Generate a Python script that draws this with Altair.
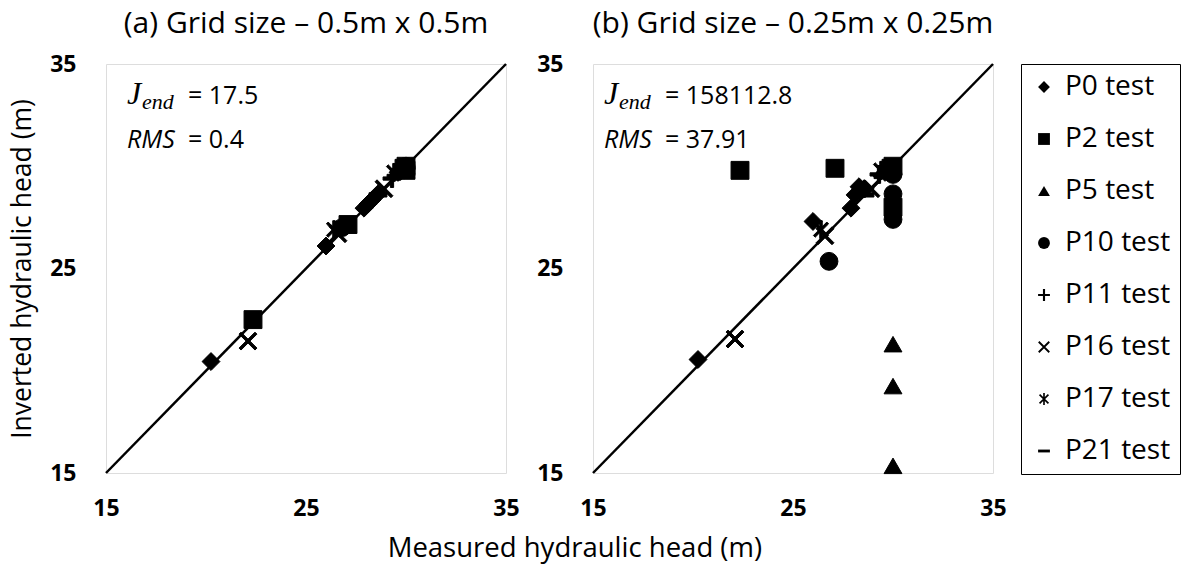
import altair as alt
import pandas as pd

# ---------------- data ----------------
tests = ["P0 test", "P2 test", "P5 test", "P10 test", "P11 test", "P16 test", "P17 test", "P21 test"]

# measured heads (same in both panels) and inverted heads for panel (a) and (b)
p0_meas = [20.25, 26.0, 27.9, 28.1, 28.3, 28.6, 29.6]
p0_inv_a = [20.45, 26.1, 27.95, 28.15, 28.35, 28.65, 29.7]
p0_inv_b = [20.55, 27.3, 27.95, 28.6, 29.0, 28.9, 29.7]

p2_meas = [22.35, 27.1, 29.9, 30.0, 30.0]
p2_inv_a = [22.5, 27.15, 29.9, 30.0, 29.8]
p2_inv_b = [29.8, 29.9, 29.9, 30.0, 28.0]

p5_meas = [30.0, 30.0, 30.0]
p5_inv_a = [29.9, 30.0, 29.8]
p5_inv_b = [21.3, 19.25, 15.35]

p10_meas = [26.8, 30.0, 30.0, 30.0]
p10_inv_a = [27.0, 29.9, 30.0, 29.9]
p10_inv_b = [25.35, 28.65, 27.4, 29.6]

p11_meas = [29.3, 29.7]
p11_inv_a = [29.4, 29.8]
p11_inv_b = [29.6, 29.9]

p16_meas = [22.1, 26.6, 28.9]
p16_inv_a = [21.45, 26.7, 28.9]
p16_inv_b = [21.55, 26.6, 28.9]

p17_meas = [26.4, 29.4]
p17_inv_a = [26.9, 29.7]
p17_inv_b = [26.9, 29.8]

p21_meas = [28.6, 29.5]
p21_inv_a = [28.6, 29.5]
p21_inv_b = [28.6, 29.5]

diag = [15, 35]
ticks = [15, 25, 35]

panel_titles = ["(a) Grid size \u2013 0.5m x 0.5m", "(b) Grid size \u2013 0.25m x 0.25m"]
j_end_values = ["= 17.5", "= 158112.8"]
rms_values = ["= 0.4", "= 37.91"]
ann_x = [16.05, 15.55]
ann_y1 = [33.04, 33.04]
ann_y2 = [30.9, 30.9]

# marker shapes (filled polygons so that legend symbols show too)
PLUS = ("M -1 -0.18 L 1 -0.18 L 1 0.18 L -1 0.18 Z "
        "M -0.18 -1 L 0.18 -1 L 0.18 1 L -0.18 1 Z")
XMARK = ("M -1.0 -0.78 L -0.78 -1.0 L 1.0 0.78 L 0.78 1.0 Z "
         "M -1.0 0.78 L 0.78 -1.0 L 1.0 -0.78 L -0.78 1.0 Z")
ASTER = ("M -0.85 -0.65 L -0.65 -0.85 L 0.85 0.65 L 0.65 0.85 Z "
         "M -0.85 0.65 L 0.65 -0.85 L 0.85 -0.65 L -0.65 0.85 Z "
         "M -0.14 -1 L 0.14 -1 L 0.14 1 L -0.14 1 Z")
DASH = "M -1 -0.24 L 1 -0.24 L 1 0.24 L -1 0.24 Z"
shapes = ["diamond", "square", "triangle-up", "circle", PLUS, XMARK, ASTER, DASH]

series = [
    ("P0 test", p0_meas, p0_inv_a, p0_inv_b),
    ("P2 test", p2_meas, p2_inv_a, p2_inv_b),
    ("P5 test", p5_meas, p5_inv_a, p5_inv_b),
    ("P10 test", p10_meas, p10_inv_a, p10_inv_b),
    ("P11 test", p11_meas, p11_inv_a, p11_inv_b),
    ("P16 test", p16_meas, p16_inv_a, p16_inv_b),
    ("P17 test", p17_meas, p17_inv_a, p17_inv_b),
    ("P21 test", p21_meas, p21_inv_a, p21_inv_b),
]

rows = []
for name, meas, ia, ib in series:
    for m, v in zip(meas, ia):
        rows.append({"panel": "a", "test": name, "measured": m, "inverted": v})
    for m, v in zip(meas, ib):
        rows.append({"panel": "b", "test": name, "measured": m, "inverted": v})
df = pd.DataFrame(rows)
diag_df = pd.DataFrame({"x": diag, "y": diag})

FONT = "Open Sans"
W, H = 400, 409

xscale = alt.Scale(domain=[15, 35], nice=False, zero=False)
yscale = alt.Scale(domain=[15, 35], nice=False, zero=False)


def make_axis(title=None, pad=24):
    kw = dict(values=ticks, grid=False, ticks=False, domain=False,
              labelFontWeight="bold", labelFontSize=23, labelFont=FONT,
              labelPadding=pad, labelFlush=False, labelColor="black")
    if title is not None:
        kw.update(titleFont=FONT, titleFontSize=26.5, titleLimit=1000,
                  titleFontWeight="normal", titlePadding=13, titleColor="black")
    return alt.Axis(**kw)


def panel(i, key, ytitle):
    sub = df[df["panel"] == key]
    yaxis = make_axis(ytitle, pad=30)
    xaxis = make_axis(None, pad=24)

    def X(f):
        return alt.X(f, scale=xscale, axis=xaxis, title=None)

    def Y(f):
        return alt.Y(f, scale=yscale, axis=yaxis, title=ytitle)

    line = alt.Chart(diag_df).mark_line(color="black", strokeWidth=2.5).encode(
        x=X("x:Q"), y=Y("y:Q"))
    pts = alt.Chart(sub).mark_point(filled=True, size=320, color="black",
                                    stroke="black", strokeWidth=1, opacity=1).encode(
        x=X("measured:Q"),
        y=Y("inverted:Q"),
        shape=alt.Shape("test:N", scale=alt.Scale(domain=tests, range=shapes),
                        legend=alt.Legend(title=None, orient="right", offset=14,
                                          labelFontSize=28, labelFont=FONT,
                                          labelColor="black", symbolSize=140,
                                          symbolStrokeWidth=1,
                                          symbolFillColor="black",
                                          symbolStrokeColor="black",
                                          rowPadding=24, padding=9,
                                          labelOffset=7,
                                          strokeColor="black")),
    )
    ann = pd.DataFrame({"x": [ann_x[i]], "y1": [ann_y1[i]], "y2": [ann_y2[i]],
                        "jv": [j_end_values[i]], "rv": [rms_values[i]]})
    base = alt.Chart(ann)
    tJ = base.mark_text(text="J", font="Liberation Serif", fontStyle="italic",
                        fontSize=32, align="left", baseline="alphabetic").encode(
        x=X("x:Q"), y=Y("y1:Q"))
    tEnd = base.mark_text(text="end", font="Liberation Serif", fontStyle="italic",
                          fontSize=22, align="left", baseline="alphabetic", dx=15, dy=5).encode(
        x=X("x:Q"), y=Y("y1:Q"))
    tJv = base.mark_text(font=FONT, fontSize=25, align="left", baseline="alphabetic", dx=61).encode(
        x=X("x:Q"), y=Y("y1:Q"), text="jv:N")
    tR = base.mark_text(text="RMS", font=FONT, fontStyle="italic", fontSize=25,
                        align="left", baseline="alphabetic").encode(
        x=X("x:Q"), y=Y("y2:Q"))
    tRv = base.mark_text(font=FONT, fontSize=25, align="left", baseline="alphabetic", dx=61).encode(
        x=X("x:Q"), y=Y("y2:Q"), text="rv:N")
    return alt.layer(line, pts, tJ, tEnd, tJv, tR, tRv).properties(
        width=W, height=H,
        title=alt.TitleParams(panel_titles[i], font=FONT, fontSize=30,
                              fontWeight="normal", anchor="middle", offset=14,
                              color="black"),
    )


pa = panel(0, "a", "Inverted hydraulic head (m)")
pb = panel(1, "b", None)

chart = alt.hconcat(pa, pb, spacing=16).properties(
    title=alt.TitleParams("Measured hydraulic head (m)", orient="bottom",
                          anchor="middle", font=FONT, fontSize=27.5,
                          fontWeight="normal", offset=14, dx=-20, color="black"),
    padding={"left": 9, "top": 8, "right": 4, "bottom": 4},
).configure_view(stroke="black", strokeWidth=2).configure(background="white")

chart.save("out.html", embed_options={"renderer": "svg", "actions": False})
